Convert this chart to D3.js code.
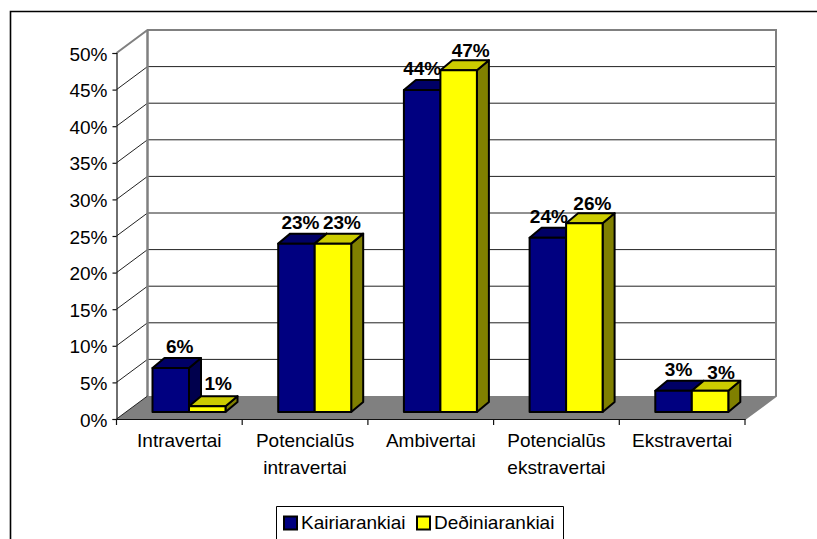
<!DOCTYPE html>
<html><head><meta charset="utf-8">
<script src="https://cdn.jsdelivr.net/npm/d3@7"></script>
<style>html,body{margin:0;padding:0;background:#fff}svg{display:block}text{font-family:"Liberation Sans",Arial,sans-serif}</style>
</head><body><div id="c"></div>
<script>
const categories = [["Intravertai"],["Potencialūs","intravertai"],["Ambivertai"],["Potencialūs","ekstravertai"],["Ekstravertai"]];
const seriesNames = ["Kairiarankiai","Deðiniarankiai"];
const kairiarankiai = [6, 23, 44, 23.8, 2.9];
const desiniarankiai = [0.8, 23, 46.7, 25.8, 2.9];
const valueLabels = [["6%","23%","44%","24%","3%"],["1%","23%","47%","26%","3%"]];
const yTicks = [0,5,10,15,20,25,30,35,40,45,50];

// layout only
const W=817,H=539;
const depth={x:31,y:-23}, barDepth={x:12,y:-10}, barLift=-7;
const labelDx=[[9,4,0,1,5],[11,9,12,8,11]];
const labelDy=[[-15,-15,-15,-15,-15],[-16,-15,-13,-13,-12]];
const faces=[{front:"#000080",top:"#000066",side:"#00004d"},{front:"#ffff00",top:"#cccc00",side:"#808000"}];
const fontSize=19;

const svg=d3.select("#c").append("svg").attr("width",W).attr("height",H);
const x=d3.scaleBand().domain(d3.range(categories.length)).range([116.5,745]).paddingInner(0).paddingOuter(0);
const y=d3.scaleLinear().domain([0,50]).range([419,53]);
const inner=d3.scaleBand().domain([0,1]).range([36,109]);
const line=d3.line();

// chart frame
svg.append("path").attr("d",line([[10.5,H],[10.5,11.5],[W,11.5]])).attr("fill","none").attr("stroke","#000").attr("stroke-width",1.6);

const y0=y(0), x0=x.range()[0], x1=x.range()[1];
// floor
svg.append("path").attr("d",line([[x0,y0],[x0+depth.x,y0+depth.y],[x1+depth.x,y0+depth.y],[x1,y0]])+"Z").attr("fill","#808080");
// gridlines
const grid=svg.append("g");
yTicks.filter(t=>t>0&&t<50).forEach(t=>{
  grid.append("path").attr("d",line([[x0,y(t)],[x0+depth.x,y(t)+depth.y],[x1+depth.x,y(t)+depth.y]])).attr("fill","none").attr("stroke","#222").attr("stroke-width",1);
});
// walls
svg.append("path").attr("d",line([[x0,y(50)],[x0+depth.x,y(50)+depth.y],[x1+depth.x,y(50)+depth.y],[x1+depth.x,y0+depth.y],[x1,y0]])).attr("fill","none").attr("stroke","#808080").attr("stroke-width",2);
svg.append("path").attr("d",line([[x0+depth.x,y(50)+depth.y],[x0+depth.x,y0+depth.y]])).attr("fill","none").attr("stroke","#808080").attr("stroke-width",2.5);
svg.append("path").attr("d",line([[x0,y0],[x0+depth.x,y0+depth.y]])).attr("fill","none").attr("stroke","#222").attr("stroke-width",1);

// axes
const yAxis=d3.axisLeft(y).tickValues(yTicks).tickFormat(d=>d+"%").tickSize(4).tickPadding(5);
const ga=svg.append("g").attr("transform",`translate(${x0},0)`).call(yAxis);
ga.selectAll("text").attr("font-size",fontSize).attr("fill","#000").attr("dy","0.37em").style("font-family",'"Liberation Sans",Arial,sans-serif');
ga.selectAll("line,path").attr("stroke","#111").attr("stroke-width",1.2);
const xa=d3.axisBottom(x).tickSize(0).tickFormat("");
const gx=svg.append("g").attr("transform",`translate(0,${y0})`).call(xa);
gx.selectAll(".tick").remove();
gx.select("path").attr("stroke","#111").attr("stroke-width",1.2);
d3.range(categories.length+1).forEach(i=>{
  const px=i<categories.length?x(i):x1;
  svg.append("line").attr("x1",px).attr("x2",px).attr("y1",y0).attr("y2",y0+6).attr("stroke","#111").attr("stroke-width",1.2);
});

// bars
const seriesVals=[kairiarankiai,desiniarankiai];
const barsG=svg.append("g");
categories.forEach((c,i)=>{
  seriesVals.forEach((vals,s)=>{
    const l=x(i)+inner(s), r=l+inner.bandwidth(), t=y(vals[i])+barLift, b=y0+barLift;
    const f=faces[s], g=barsG.append("g").attr("stroke","#000").attr("stroke-width",2).attr("stroke-linejoin","round");
    const dx=barDepth.x, dy=barDepth.y;
    g.append("path").attr("d",line([[r,t],[r+dx,t+dy],[r+dx,b+dy],[r,b]])+"Z").attr("fill",f.side);
    g.append("path").attr("d",line([[l,t],[l+dx,t+dy],[r+dx,t+dy],[r,t]])+"Z").attr("fill",f.top);
    g.append("rect").attr("x",l).attr("y",t).attr("width",r-l).attr("height",b-t).attr("fill",f.front);
  });
});
// value labels
categories.forEach((c,i)=>{
  seriesVals.forEach((vals,s)=>{
    svg.append("text").attr("x",x(i)+inner(s)+inner.bandwidth()/2+labelDx[s][i]).attr("y",y(vals[i])+barLift+labelDy[s][i])
      .attr("text-anchor","middle").attr("font-weight","bold").attr("font-size",fontSize).attr("fill","#000").text(valueLabels[s][i]);
  });
});
// category labels
categories.forEach((c,i)=>{
  c.forEach((ln,k)=>{
    svg.append("text").attr("x",x(i)+x.bandwidth()/2).attr("y",447+k*27).attr("text-anchor","middle").attr("font-size",fontSize).attr("fill","#000").text(ln);
  });
});
// legend
const lg=svg.append("g");
lg.append("path").attr("d",line([[276.5,H],[276.5,506.5],[563.5,506.5],[563.5,H]])).attr("fill","#fff").attr("stroke","#000").attr("stroke-width",1);
const legX=[284,417];
seriesNames.forEach((n,s)=>{
  lg.append("rect").attr("x",legX[s]).attr("y",516.5).attr("width",13).attr("height",13).attr("fill",faces[s].front).attr("stroke","#000").attr("stroke-width",2);
  lg.append("text").attr("x",legX[s]+17).attr("y",529).attr("font-size",fontSize).attr("fill","#000").text(n);
});
</script></body></html>
